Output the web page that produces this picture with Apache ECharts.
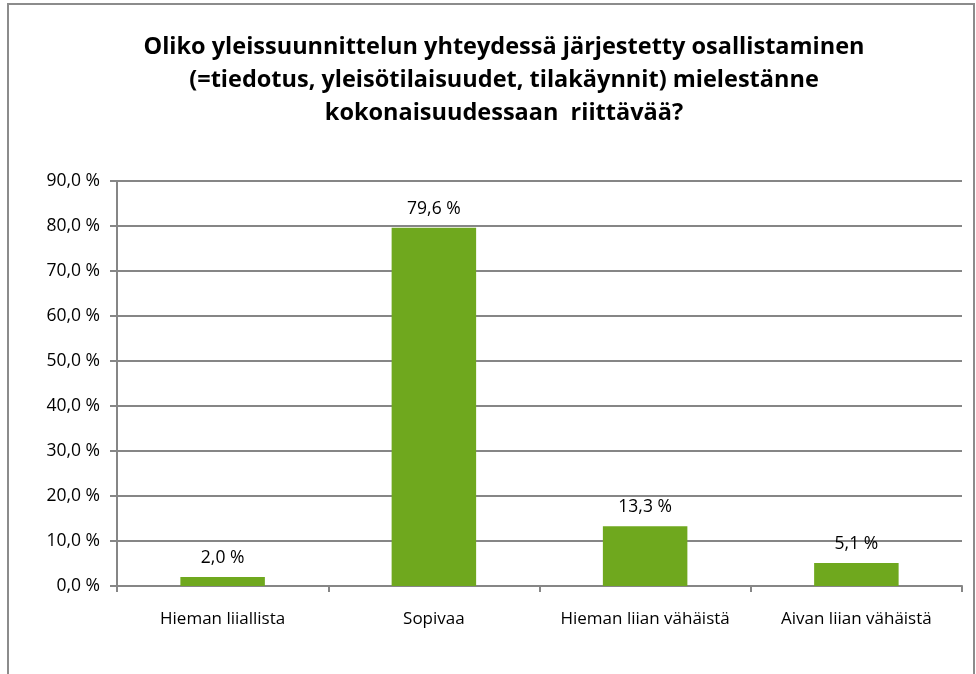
<!DOCTYPE html>
<html>
<head>
<meta charset="utf-8">
<script src="https://cdn.jsdelivr.net/npm/echarts@6/dist/echarts.min.js"></script>
<style>
  html, body { margin: 0; padding: 0; background: #fff; }
  #chart { width: 976px; height: 674px; }
</style>
</head>
<body>
<div id="chart"></div>
<script>
// kategoriat ja osuudet (%)
const categories = ['Hieman liiallista', 'Sopivaa', 'Hieman liian vähäistä', 'Aivan liian vähäistä']
const values = [2.0, 79.6, 13.3, 5.1]
const yTicks = [0, 10, 20, 30, 40, 50, 60, 70, 80, 90]

const fmt = v => v.toFixed(1).replace('.', ',') + ' %'
const font = '"Open Sans", "Noto Sans", sans-serif'

const chart = echarts.init(document.getElementById('chart'))
const option = {
  animation: false,
  backgroundColor: '#fff',
  title: {
    text: 'Oliko yleissuunnittelun yhteydessä järjestetty osallistaminen\n(=tiedotus, yleisötilaisuudet, tilakäynnit) mielestänne\nkokonaisuudessaan  riittävää?',
    left: 499,
    top: 26,
    textAlign: 'center',
    textStyle: {
      fontFamily: font,
      fontSize: 23.5,
      fontWeight: 'bold',
      color: '#000',
      lineHeight: 33
    }
  },
  graphic: [{
    type: 'rect',
    shape: { x: 8, y: 4, width: 966, height: 720 },
    style: { fill: 'none', stroke: '#8c8c8c', lineWidth: 2 },
    silent: true
  }],
  grid: { left: 117, right: 14, top: 181, bottom: 88 },
  xAxis: {
    type: 'category',
    data: categories,
    axisLine: { lineStyle: { color: '#868686', width: 2 } },
    axisTick: { show: true, length: 6, alignWithLabel: false, lineStyle: { color: '#868686', width: 2 } },
    axisLabel: { interval: 0, fontFamily: font, fontSize: 17, color: '#000', margin: 25 }
  },
  yAxis: {
    type: 'value',
    min: yTicks[0],
    max: yTicks[yTicks.length - 1],
    interval: 10,
    axisLine: { show: true, lineStyle: { color: '#868686', width: 2 } },
    axisTick: { show: true, length: 7, lineStyle: { color: '#868686', width: 2 } },
    axisLabel: { fontFamily: font, fontSize: 17.5, color: '#000', margin: 17, formatter: v => fmt(v) },
    splitLine: { lineStyle: { color: '#868686', width: 2 } }
  },
  series: [{
    type: 'bar',
    data: values,
    barWidth: '40%',
    itemStyle: { color: '#6fa81e' },
    label: {
      show: true,
      position: 'top',
      distance: 10,
      fontFamily: font,
      fontSize: 17.5,
      color: '#000',
      formatter: p => fmt(p.value)
    }
  }]
}
chart.setOption(option)
</script>
</body>
</html>
